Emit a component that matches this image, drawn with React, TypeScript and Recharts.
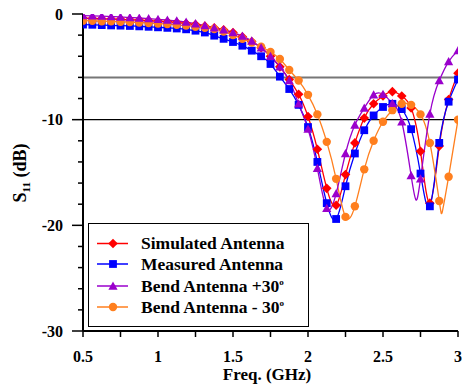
import React from 'react';
import { ComposedChart, Line, XAxis, YAxis, ReferenceLine } from 'recharts';

const FONT = '"Liberation Serif", "Times New Roman", serif';

const FREQS = [
  0.5, 0.5625, 0.625, 0.6875, 0.75, 0.8125, 0.875, 0.9375, 1.0, 1.0625,
  1.125, 1.1875, 1.25, 1.3125, 1.375, 1.4375, 1.5, 1.5625, 1.625, 1.6875,
  1.75, 1.8125, 1.875, 1.9375, 2.0, 2.0625, 2.125, 2.1875, 2.25, 2.3125,
  2.375, 2.4375, 2.5, 2.5625, 2.625, 2.6875, 2.75, 2.8125, 2.875, 2.9375, 3.0,
];

const SIMULATED = [
  -0.4, -0.42, -0.45, -0.48, -0.5, -0.54, -0.58, -0.63, -0.68, -0.74,
  -0.8, -0.9, -1.0, -1.15, -1.3, -1.5, -1.75, -2.15, -2.6, -3.2,
  -4.0, -5.0, -6.2, -7.6, -9.7, -12.8, -16.5, -18.1, -15.2, -12.2,
  -9.85, -8.5, -7.76, -7.35, -7.76, -8.9, -13.0, -17.9, -12.5, -8.1, -5.6,
];

const MEASURED = [
  -1.0, -1.02, -1.05, -1.08, -1.1, -1.13, -1.17, -1.21, -1.26, -1.31,
  -1.37, -1.45, -1.58, -1.75, -2.05, -2.35, -2.65, -3.0, -3.47, -4.0,
  -4.73, -5.93, -7.1, -8.6, -10.7, -14.0, -17.9, -19.4, -16.3, -13.2,
  -11.0, -9.6, -8.8, -8.5, -9.0, -10.9, -15.1, -18.2, -12.2, -8.3, -6.2,
];

const BEND_PLUS = [
  -0.15, -0.17, -0.2, -0.24, -0.28, -0.33, -0.38, -0.44, -0.5, -0.57,
  -0.65, -0.77, -0.92, -1.1, -1.3, -1.5, -1.75, -2.1, -2.55, -3.2,
  -4.0, -5.0, -6.3, -8.5, -10.9, -14.6, -18.4, -17.0, -13.2, -10.5,
  -8.9, -7.66, -7.6, -8.45, -10.2, -15.3, -15.6, -9.46, -6.3, -4.5, -3.47,
];
const BEND_PLUS_DIP_F = [2.72];
const BEND_PLUS_DIP_V = [-17.6];

const BEND_MINUS = [
  -0.63, -0.65, -0.68, -0.7, -0.73, -0.77, -0.8, -0.85, -0.9, -0.95,
  -1.02, -1.1, -1.2, -1.3, -1.42, -1.65, -2.0, -2.35, -2.7, -3.1,
  -3.6, -4.26, -5.3, -6.3, -7.65, -9.5, -12.1, -15.6, -19.2, -18.2,
  -14.7, -12.0, -10.2, -9.1, -8.5, -8.6, -9.5, -12.2, -17.7, -15.4, -10.0,
];
const BEND_MINUS_DIP_F = [2.897];
const BEND_MINUS_DIP_V = [-18.6];

const X_TICKS = [0.5, 0.75, 1, 1.25, 1.5, 1.75, 2, 2.25, 2.5, 2.75, 3];
const X_LABELED = [0.5, 1, 1.5, 2, 2.5, 3];
const Y_TICKS = [0, -2, -4, -6, -8, -10, -12, -14, -16, -18, -20, -22, -24, -26, -28, -30];
const Y_LABELED = [0, -10, -20, -30];

const SERIES_NAMES = ['Simulated Antenna', 'Measured Antenna', 'Bend Antenna +30', 'Bend Antenna - 30'];

type Row = { f: number; v: number; marker: boolean };

function buildRows(values: number[], extraF: number[] = [], extraV: number[] = []): Row[] {
  const rows: Row[] = FREQS.map((f, i) => ({ f, v: values[i], marker: true }));
  extraF.forEach((f, i) => rows.push({ f, v: extraV[i], marker: false }));
  rows.sort((a, b) => a.f - b.f);
  return rows;
}

const RED = '#ff0000';
const BLUE = '#0000ff';
const PURPLE = '#9a00cc';
const ORANGE = '#ff7f1e';

type Shape = 'diamond' | 'square' | 'triangle' | 'circle';

function Marker({ shape, cx, cy, color }: { shape: Shape; cx: number; cy: number; color: string }) {
  if (shape === 'diamond') {
    const r = 4.8;
    return <polygon points={`${cx},${cy - r} ${cx + r},${cy} ${cx},${cy + r} ${cx - r},${cy}`} fill={color} />;
  }
  if (shape === 'square') {
    const s = 3.9;
    return <rect x={cx - s} y={cy - s} width={2 * s} height={2 * s} fill={color} />;
  }
  if (shape === 'triangle') {
    const r = 4.6;
    return <polygon points={`${cx},${cy - r} ${cx + r},${cy + r * 0.8} ${cx - r},${cy + r * 0.8}`} fill={color} />;
  }
  return <circle cx={cx} cy={cy} r={4.2} fill={color} />;
}

function makeDot(shape: Shape, color: string) {
  return (props: any) => {
    const { cx, cy, payload, index } = props;
    if (!payload || !payload.marker || cx == null || cy == null) return <g key={`n${index}`} />;
    return (
      <g key={`m${index}`}>
        <Marker shape={shape} cx={cx} cy={cy} color={color} />
      </g>
    );
  };
}

const XTick = (props: any) => {
  const { x, y, payload } = props;
  const major = X_LABELED.includes(payload.value);
  return (
    <g>
      <line x1={x} x2={x} y1={y} y2={y + 6} stroke="#000" strokeWidth={1.5} />
      {major && (
        <text x={x} y={y + 31} textAnchor="middle" fontFamily={FONT} fontWeight="bold" fontSize={16} fill="#000">
          {String(payload.value)}
        </text>
      )}
    </g>
  );
};

const YTick = (props: any) => {
  const { x, y, payload } = props;
  const major = Y_LABELED.includes(payload.value);
  return (
    <g>
      <line x1={x - (major ? 11 : 5)} x2={x} y1={y} y2={y} stroke="#000" strokeWidth={1.5} />
      {major && (
        <text x={x - 20} y={y + 5.5} textAnchor="end" fontFamily={FONT} fontWeight="bold" fontSize={16} fill="#000">
          {String(payload.value)}
        </text>
      )}
    </g>
  );
};

const SERIES = [
  { name: SERIES_NAMES[0], rows: buildRows(SIMULATED), color: RED, shape: 'diamond' as Shape },
  { name: SERIES_NAMES[1], rows: buildRows(MEASURED), color: BLUE, shape: 'square' as Shape },
  { name: SERIES_NAMES[3], rows: buildRows(BEND_MINUS, BEND_MINUS_DIP_F, BEND_MINUS_DIP_V), color: ORANGE, shape: 'circle' as Shape },
  { name: SERIES_NAMES[2], rows: buildRows(BEND_PLUS, BEND_PLUS_DIP_F, BEND_PLUS_DIP_V), color: PURPLE, shape: 'triangle' as Shape },
];

const LEGEND_ITEMS: { name: string; color: string; shape: Shape; sup: boolean }[] = [
  { name: SERIES_NAMES[0], color: RED, shape: 'diamond', sup: false },
  { name: SERIES_NAMES[1], color: BLUE, shape: 'square', sup: false },
  { name: SERIES_NAMES[2], color: PURPLE, shape: 'triangle', sup: true },
  { name: SERIES_NAMES[3], color: ORANGE, shape: 'circle', sup: true },
];

export default function App() {
  return (
    <div style={{ position: 'absolute', left: 0, top: 0, width: 462, height: 387, background: '#fff' }}>
      <ComposedChart width={462} height={387} margin={{ top: 14, right: 4, bottom: 0, left: 0 }}>
        <XAxis
          type="number"
          dataKey="f"
          domain={[0.5, 3]}
          ticks={X_TICKS}
          allowDataOverflow
          height={56}
          tickSize={0}
          tickMargin={0}
          tickLine={false}
          tick={<XTick />}
          axisLine={{ stroke: '#000', strokeWidth: 2 }}
          interval={0}
        />
        <YAxis
          type="number"
          dataKey="v"
          domain={[-30, 0]}
          ticks={Y_TICKS}
          allowDataOverflow
          width={83}
          tickSize={0}
          tickMargin={0}
          tickLine={false}
          tick={<YTick />}
          axisLine={{ stroke: '#000', strokeWidth: 2 }}
          interval={0}
        />
        <ReferenceLine y={-6} stroke="#777" strokeWidth={2} />
        <ReferenceLine y={-10} stroke="#000" strokeWidth={1.3} />
        {SERIES.map((s) => (
          <Line
            key={s.name}
            data={s.rows}
            dataKey="v"
            type="natural"
            stroke={s.color}
            strokeWidth={1.3}
            dot={makeDot(s.shape, s.color)}
            activeDot={false}
            isAnimationActive={false}
          />
        ))}
      </ComposedChart>

      <svg width={462} height={387} style={{ position: 'absolute', left: 0, top: 0, pointerEvents: 'none' }}>
        <text x={267} y={380} textAnchor="middle" fontFamily={FONT} fontWeight="bold" fontSize={17} fill="#000">
          Freq. (GHz)
        </text>
        <text transform="translate(26,173) rotate(-90)" textAnchor="middle" fontFamily={FONT} fontWeight="bold" fontSize={18} fill="#000">
          S<tspan fontSize={11} dy={4}>11</tspan>
          <tspan dy={-4}> (dB)</tspan>
        </text>
      </svg>

      <div
        style={{
          position: 'absolute',
          left: 88,
          top: 223,
          width: 219,
          height: 102,
          border: '1px solid #000',
          background: '#fff',
        }}
      >
        <svg width={219} height={102}>
          {LEGEND_ITEMS.map((it, i) => {
            const cy = [19.5, 40, 62, 83][i];
            return (
              <g key={it.name}>
                <line x1={8} x2={39} y1={cy} y2={cy} stroke={it.color} strokeWidth={1.5} />
                <Marker shape={it.shape} cx={24} cy={cy} color={it.color} />
                <text x={52} y={cy + 5.5} fontFamily={FONT} fontWeight="bold" fontSize={17.5} fill="#000">
                  {it.name}
                  {it.sup && (
                    <tspan fontSize={9} dy={-7}>
                      o
                    </tspan>
                  )}
                </text>
              </g>
            );
          })}
        </svg>
      </div>
    </div>
  );
}
